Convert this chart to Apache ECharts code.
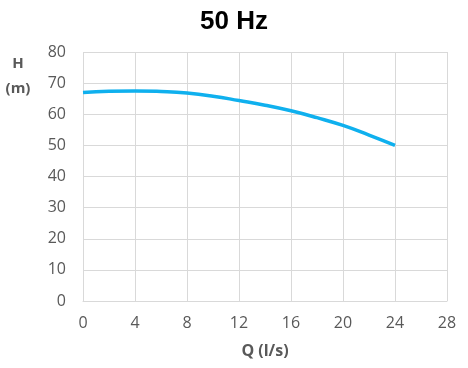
<!DOCTYPE html>
<html><head><meta charset="utf-8">
<script src="https://cdn.jsdelivr.net/npm/echarts@6/dist/echarts.min.js"></script>
<style>html,body{margin:0;padding:0;background:#fff}#c{width:468px;height:368px}</style>
</head><body><div id="c"></div>
<script>
const titleText = "50 Hz";
const xName = "Q (l/s)";
const yNameLines = ["H", "(m)"];
const flow = [0, 2, 4, 6, 8, 10, 12, 14, 16, 18, 20, 22, 24];
const head = [67.0, 67.4, 67.5, 67.3, 66.8, 65.8, 64.4, 62.9, 61.1, 58.9, 56.4, 53.3, 50.0];

const chart = echarts.init(document.getElementById('c'), null, {renderer: 'canvas'});
const nameStyle = {fontFamily: 'Open Sans', fontWeight: 'bold', fontSize: 15, fill: '#595959', align: 'center', verticalAlign: 'middle'};
chart.setOption({
  animation: false,
  title: {text: titleText, left: 'center', top: 4,
    textStyle: {fontFamily: 'Liberation Sans', fontWeight: 'bold', fontSize: 26, color: '#000'}},
  grid: {left: 83, right: 21, top: 52, bottom: 67},
  xAxis: {type: 'value', min: 0, max: 28, interval: 4,
    name: xName, nameLocation: 'middle', nameGap: 42,
    nameTextStyle: {fontFamily: 'Open Sans', fontWeight: 'bold', fontSize: 16, color: '#595959'},
    axisLine: {show: true, lineStyle: {color: '#d9d9d9', width: 1}},
    axisTick: {show: false},
    axisLabel: {fontFamily: 'Open Sans', fontSize: 16, color: '#595959', margin: 14},
    splitLine: {show: true, lineStyle: {color: '#d9d9d9', width: 1}}},
  yAxis: {type: 'value', min: 0, max: 80, interval: 10,
    axisLine: {show: false}, axisTick: {show: false},
    axisLabel: {fontFamily: 'Open Sans', fontSize: 16, color: '#595959', margin: 17},
    splitLine: {show: true, lineStyle: {color: '#d9d9d9', width: 1}}},
  graphic: [
    {type: 'text', x: 18, y: 64, style: Object.assign({text: yNameLines[0]}, nameStyle)},
    {type: 'text', x: 18, y: 89, style: Object.assign({text: yNameLines[1]}, nameStyle)}
  ],
  series: [{type: 'line', smooth: true, symbol: 'none',
    data: flow.map((q, i) => [q, head[i]]),
    lineStyle: {color: '#0fb0ee', width: 3.5}}]
});
</script></body></html>
